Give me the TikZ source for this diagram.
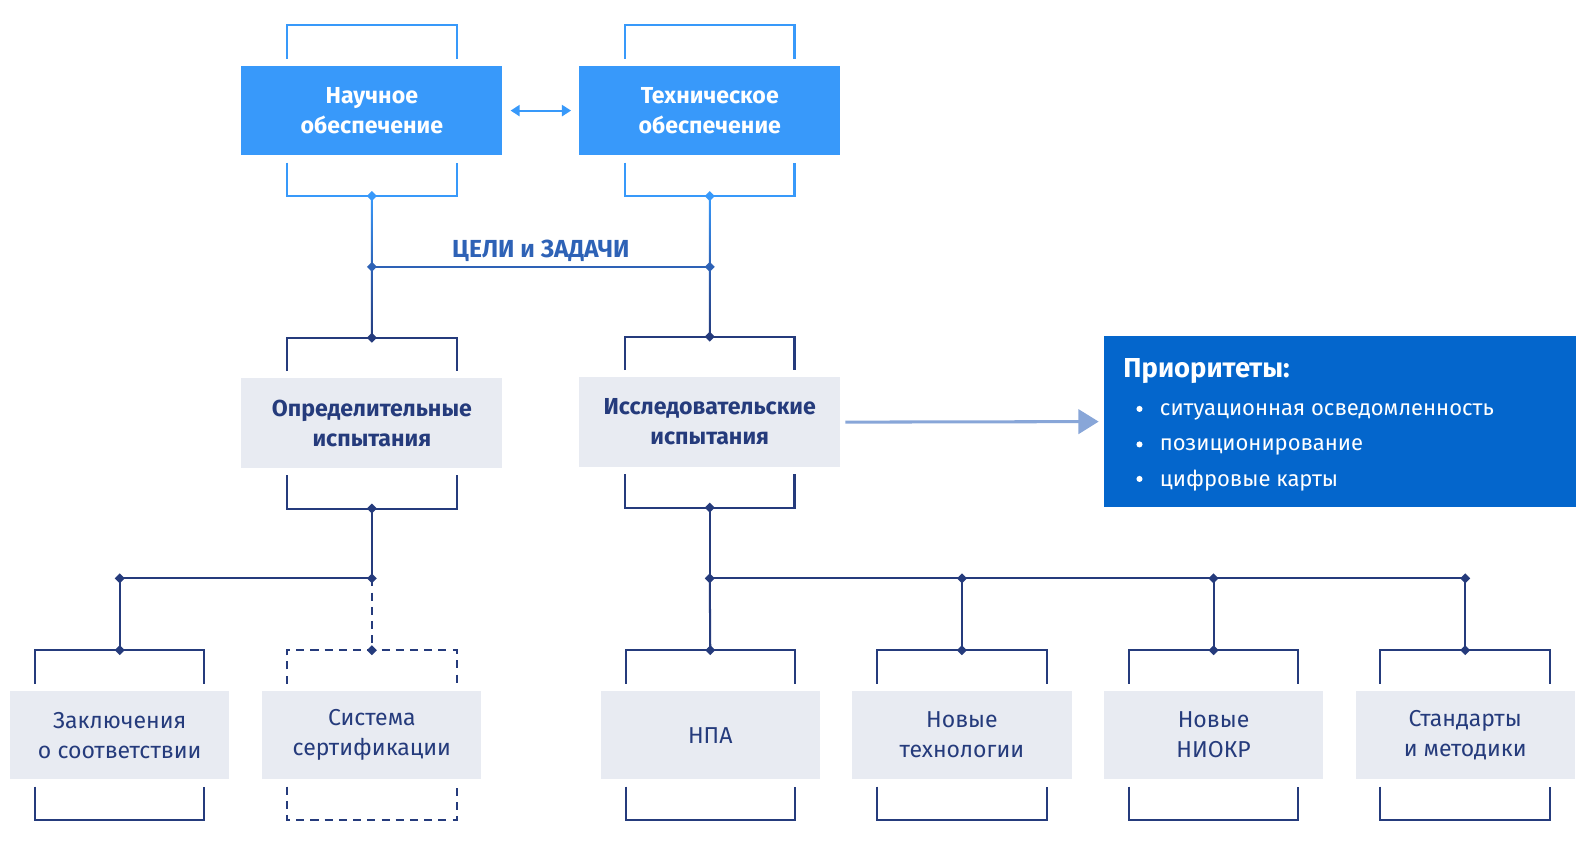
\documentclass[tikz,border=0pt]{standalone}
\usepackage{fontspec}
\setmainfont{Fira Sans}
\usetikzlibrary{shapes.geometric,arrows.meta,calc}
\definecolor{cblue}{HTML}{3899FA}
\definecolor{cprio}{HTML}{0466CC}
\definecolor{cgrey}{HTML}{E8EBF2}
\definecolor{cnavy}{HTML}{253B7C}
\definecolor{cmid}{HTML}{2E62B6}
\definecolor{carrow}{HTML}{88A6D8}
\newcommand\brk[3][]{%
  \draw[conn,#1] ($(#2.north)+(-#3,-7)$) -- ++(0,-33) -- ++(2*#3,0) -- ++(0,33);
  \draw[conn,#1] ($(#2.south)+(-#3,7)$) -- ++(0,33) -- ++(2*#3,0) -- ++(0,-33);}
\begin{document}
\begin{tikzpicture}[x=1pt,y=-1pt,
  bluebox/.style={fill=cblue,text=white,font=\bfseries\fontsize{22.8}{29.5}\selectfont,minimum width=257pt,minimum height=88pt,align=center,inner sep=0pt},
  midbox/.style={fill=cgrey,text=cnavy,font=\bfseries\fontsize{22.8}{29.5}\selectfont,minimum width=257pt,minimum height=88pt,align=center,inner sep=0pt},
  leafbox/.style={fill=cgrey,text=cnavy,font=\fontsize{22.7}{29.5}\selectfont,minimum width=216pt,minimum height=87pt,align=center,inner sep=0pt},
  conn/.style={line width=2pt,draw=cnavy},
  dia/.style={shape=diamond,fill=#1,inner sep=0pt,minimum size=10pt},
  dia/.default=cnavy,
  priotext/.style={text=white,anchor=west,inner sep=0pt,font=\fontsize{21.7}{26}\selectfont},
  bullet/.style={fill=white,circle,inner sep=0pt,minimum size=6pt}]
\useasboundingbox (0,0) rectangle (1568,836);
% boxes
\node[bluebox] (nauch) at (366.5,109) {Научное\\обеспечение};
\node[bluebox] (tech) at (699.5,109) {Техническое\\обеспечение};
\node[midbox] (opr) at (366.5,417) {Определительные\\испытания};
\node[midbox] (iss) at (699.5,416) {Исследовательские\\испытания};
\node[leafbox] (zak) at (118,724.5) {Заключения\\о соответствии};
\node[leafbox] (sis) at (366.5,724.5) {Система\\сертификации};
\node[leafbox] (npa) at (700,724.5) {НПА};
\node[leafbox] (nt) at (948,724.5) {Новые\\технологии};
\node[leafbox] (nn) at (1196,724.5) {Новые\\НИОКР};
\node[leafbox] (sm) at (1444,724.5) {Стандарты\\и методики};
\node[fill=cprio,minimum width=465pt,minimum height=169pt,inner sep=0pt] (prio) at (1320.5,415.5) {};
\node[priotext,font=\bfseries\fontsize{27}{30}\selectfont] (ptitle) at (1107,366) {Приоритеты:};
\node[bullet] (pb1) at (1123,403) {};
\node[priotext] (pt1) at (1143,405.5) {ситуационная осведомленность};
\node[bullet] (pb2) at (1123,438) {};
\node[priotext] (pt2) at (1143,440.5) {позиционирование};
\node[bullet] (pb3) at (1123,472) {};
\node[priotext] (pt3) at (1143,473.5) {цифровые карты};
\node[text=cmid,font=\bfseries\fontsize{24.3}{26}\selectfont,inner sep=0pt] (goal) at (533,247) {ЦЕЛИ и ЗАДАЧИ};
% brackets
\brk[draw=cblue]{nauch}{83.5}
\brk[draw=cblue]{tech}{83.5}
\brk{opr}{83.5}
\brk{iss}{83.5}
\brk{zak}{83.5}
\brk[dash pattern=on 8pt off 6pt]{sis}{83.5}
\brk{npa}{83.5}
\brk{nt}{83.5}
\brk{nn}{83.5}
\brk{sm}{83.5}
% coordinates
\coordinate (nauchB) at ($(nauch.south)+(0,40)$);
\coordinate (techB) at ($(tech.south)+(0,40)$);
\coordinate (j1) at (366.5,263);
\coordinate (j2) at (699.5,263);
\coordinate (oprT) at ($(opr.north)+(0,-40)$);
\coordinate (issT) at ($(iss.north)+(0,-40)$);
\coordinate (oprB) at ($(opr.south)+(0,40)$);
\coordinate (issB) at ($(iss.south)+(0,40)$);
\coordinate (k0) at (118,570);
\coordinate (k1) at (366.5,570);
\coordinate (r1) at (699.5,570);
\coordinate (r2) at (948,570);
\coordinate (r3) at (1196,570);
\coordinate (r4) at (1444,570);
\coordinate (zakT) at ($(zak.north)+(0,-40)$);
\coordinate (sisT) at ($(sis.north)+(0,-40)$);
\coordinate (npaT) at ($(npa.north)+(0,-40)$);
\coordinate (ntT) at ($(nt.north)+(0,-40)$);
\coordinate (nnT) at ($(nn.north)+(0,-40)$);
\coordinate (smT) at ($(sm.north)+(0,-40)$);
% connectors
\shade[top color=cblue,bottom color=cmid] ($(nauchB)+(-1,0)$) rectangle ($(j1)+(1,0)$);
\shade[top color=cblue,bottom color=cmid] ($(techB)+(-1,0)$) rectangle ($(j2)+(1,0)$);
\shade[top color=cmid,bottom color=cnavy] ($(j1)+(-1,0)$) rectangle ($(oprT)+(1,0)$);
\shade[top color=cmid,bottom color=cnavy] ($(j2)+(-1,0)$) rectangle ($(issT)+(1,0)$);
\draw[line width=2pt,cmid] (j1) -- (j2);
\draw[line width=2pt,cblue,{Triangle[length=9pt,width=11pt]}-{Triangle[length=9pt,width=11pt]}] ([xshift=8pt]nauch.east) -- ([xshift=-8pt]tech.west);
\draw[line width=3pt,carrow,-{Triangle[length=20pt,width=24pt]}] ([xshift=5pt]iss.east) -- ([xshift=-5pt]prio.west);
\draw[conn] (oprB) -- (k1) -- (k0) -- (zakT);
\draw[conn,dash pattern=on 8pt off 6pt] (k1) -- (sisT);
\draw[conn] (issB) -- (r1) -- (r4);
\draw[conn] (r1) -- (npaT);
\draw[conn] (r2) -- (ntT);
\draw[conn] (r3) -- (nnT);
\draw[conn] (r4) -- (smT);
% diamonds
\foreach \c in {nauchB,techB}{\node[dia=cblue] at (\c) {};}
\foreach \c in {j1,j2}{\node[dia=cmid] at (\c) {};}
\foreach \c in {oprT,issT,oprB,issB,k0,k1,r1,r2,r3,r4,zakT,sisT,npaT,ntT,nnT,smT}{\node[dia] at (\c) {};}
\end{tikzpicture}
\end{document}
